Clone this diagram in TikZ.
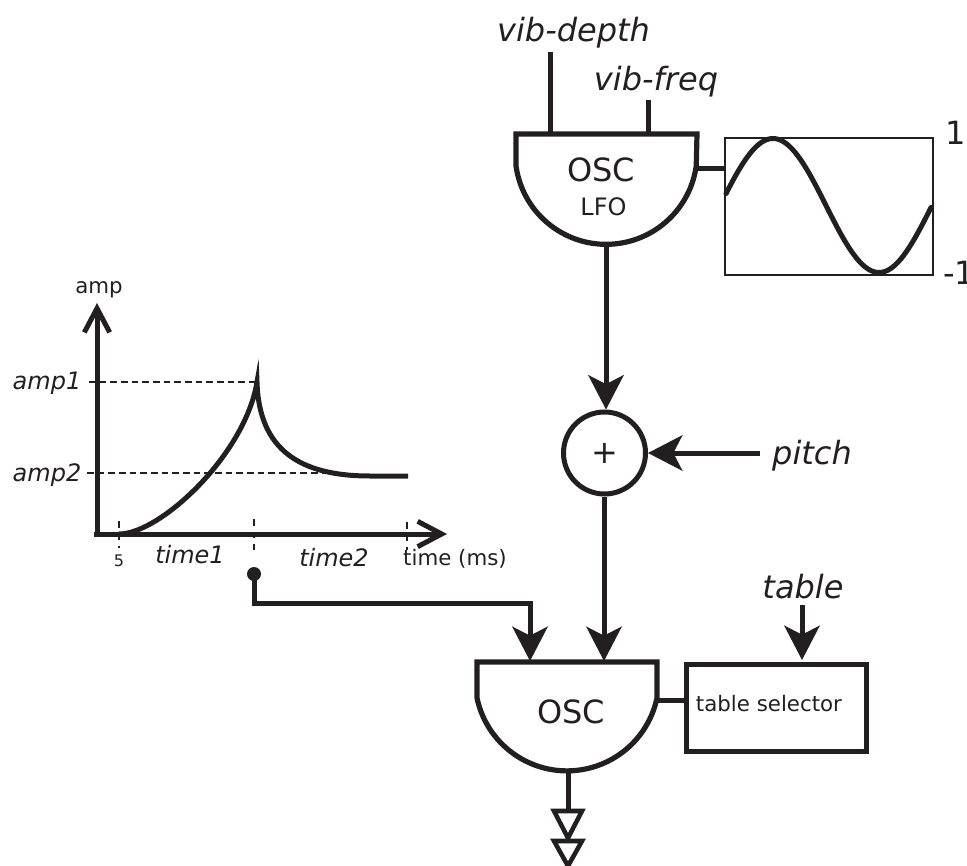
\documentclass[tikz,border=0pt]{standalone}
\usepackage{fontspec}
\setmainfont{DejaVu Sans}
\usetikzlibrary{arrows.meta}
\definecolor{ink}{HTML}{231F20}
\tikzset{
  lab/.style={anchor=base,inner sep=0pt,outer sep=0pt,text=ink},
  bigi/.style={lab,font=\fontsize{24}{24}\selectfont\itshape},
  midi/.style={lab,font=\fontsize{18}{18}\selectfont\itshape},
  bigr/.style={lab,font=\fontsize{24}{24}\selectfont},
  midr/.style={lab,font=\fontsize{16}{16}\selectfont},
  wire/.style={draw=ink,line width=3.75pt},
  thinwire/.style={draw=ink,line width=3pt},
  oscshape/.style={draw=ink,fill=white,line width=3.9pt,line join=miter},
  bigarrow/.style={wire,-{Stealth[length=26pt,width=27pt,inset=7pt,line width=0pt,fill=ink]}},
  axisarrow/.style={wire,-{Straight Barb[length=18pt,width=19pt,line width=3.75pt]}},
  guide/.style={draw=ink,line width=1.8pt,dash pattern=on 5pt off 3pt},
  tick/.style={draw=ink,line width=1.9pt,dash pattern=on 5pt off 4.5pt},
  outtri/.style={draw=ink,fill=white,line width=3.4pt,line join=miter},
}
\begin{document}
\begin{tikzpicture}[x=0.75pt,y=-0.75pt]
\useasboundingbox (0,0) rectangle (967,866);

% ---------- LFO oscillator
\coordinate (lfoTL) at (516,134);
\coordinate (lfoTR) at (697,134);
\path[oscshape] (lfoTL) -- (516,166) arc[start angle=188,end angle=352,radius=68.25pt] -- (lfoTR) -- cycle;
\coordinate (lfoBot) at (606,243);
\coordinate (lfoDepth) at (550,134);
\coordinate (lfoFreq) at (648,134);
\coordinate (lfoOut) at (697,169);
\coordinate (depthTop) at (550,52);
\coordinate (freqTop) at (648,100);
\draw[wire] (depthTop) -- (lfoDepth);
\draw[wire] (freqTop) -- (lfoFreq);
\node[bigi] (tdepth) at (573.5,42) {vib-depth};
\node[bigi] (tfreq) at (656,91) {vib-freq};
\node[bigr] (tosc1) at (601,182) {OSC};
\node[lab,font=\fontsize{18}{18}\selectfont] (tlfo) at (603.5,216) {LFO};

% ---------- sine box
\node[draw=ink,line width=1.6pt,minimum width=156pt,minimum height=102.75pt,inner sep=0pt,anchor=north west] (sinebox) at (724,137) {};
\coordinate (sineIn) at (724,169);
\draw[wire] (lfoOut) -- (sineIn);
\draw[wire,line cap=round] plot[domain=726:931,samples=90,smooth] (\x,{205.5-67*cos((\x-773)*1.69811)});
\node[bigr] (tone) at (956,145) {1};
\node[bigr,anchor=base west] (tmone) at (943,285) {-1};

% ---------- adder
\node[draw=ink,fill=white,line width=3.75pt,circle,minimum size=61.5pt,inner sep=0pt,text=ink,font=\fontsize{24}{24}\selectfont] (adder) at (604.5,453) {+};
\coordinate (pitchStart) at (760,453);
\node[bigi] (tpitch) at (812,464) {pitch};
\draw[bigarrow] (lfoBot) -- (lfoBot |- adder.north);
\draw[bigarrow] (pitchStart) -- (adder.east);

% ---------- main oscillator
\path[oscshape] (477,662) -- (477,698) arc[start angle=192,end angle=348,radius=69pt] -- (657,662) -- cycle;
\node[bigr] (tosc2) at (571,723) {OSC};
\coordinate (oscBot) at (568,772);
\coordinate (oscInA) at (530,661);
\coordinate (oscInB) at (604,661);
\coordinate (oscOut) at (657,700);
\draw[bigarrow] (adder.south -| oscInB) -- (oscInB);

% ---------- table selector
\node[draw=ink,line width=3.9pt,minimum width=135pt,minimum height=65.25pt,inner sep=0pt,anchor=north west] (selector) at (684,662) {};
\node[midr] (tsel) at (769,711) {table selector};
\node[bigi] (ttable) at (803,598) {table};
\coordinate (selIn) at (802,660);
\coordinate (tableStart) at (802,605);
\coordinate (selL) at (684,700);
\draw[bigarrow] (tableStart) -- (selIn);
\draw[wire] (oscOut) -- (selL);

% ---------- output
\coordinate (outTri) at (568,811);
\draw[wire] (oscBot) -- (outTri);
\path[outtri] (554,811) -- (582,811) -- (568,838) -- cycle;
\path[outtri] (554,841) -- (582,841) -- (568,866) -- cycle;

% ---------- envelope graph
\coordinate (origin) at (97,534);
\coordinate (yTip) at (97,303);
\coordinate (xTip) at (447,534);
\draw[guide] (89,382) -- (257,382);
\draw[guide] (87,473) -- (345,473);
\draw[tick] (119,521) -- (119,548);
\draw[tick] (254,519) -- (254,550);
\draw[tick] (407,522) -- (407,550);
\draw[axisarrow] (origin) -- (yTip);
\draw[axisarrow] (94,534) -- (xTip);
\draw[wire] (119,534) .. controls (160,534) and (245,455) .. (257,382)
  .. controls (259,450) and (300,476) .. (370,476) -- (408,476);
\node[midr] (tamp) at (99,293) {amp};
\node[midi] (tamp1) at (47,389) {amp1};
\node[midi] (tamp2) at (47,481) {amp2};
\node[lab,font=\fontsize{12}{12}\selectfont] (tfive) at (119,566) {5};
\node[midi] (ttime1) at (190,563) {time1};
\node[midi] (ttime2) at (334,566) {time2};
\node[midr] (ttime) at (455,565) {time (ms)};

% ---------- envelope to oscillator
\node[circle,fill=ink,minimum size=10.5pt,inner sep=0pt] (dot) at (254,574) {};
\draw[bigarrow] (dot.center) -- (254,603) -- (530,603) -- (oscInA);
\end{tikzpicture}
\end{document}
